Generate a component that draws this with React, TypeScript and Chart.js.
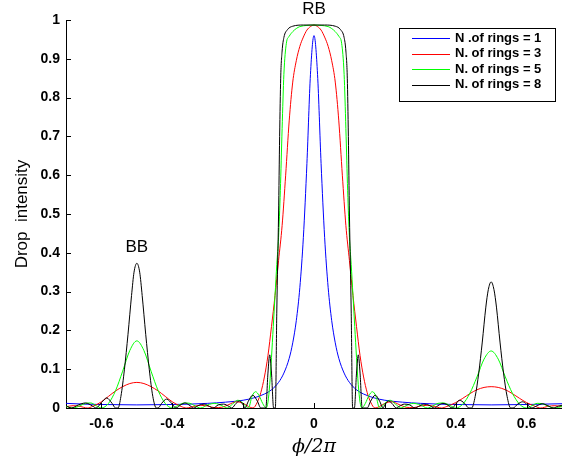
import React, { useEffect, useRef } from "react";
import { Chart, registerables } from "chart.js";

Chart.register(...registerables);

// Drop-port intensity versus normalised phase for coupled ring resonators.
type Pt = [number, number];

const xTicks = [-0.6, -0.4, -0.2, 0, 0.2, 0.4, 0.6];
const yTicks = [0, 0.1, 0.2, 0.3, 0.4, 0.5, 0.6, 0.7, 0.8, 0.9, 1];

const seriesLabels = [
  "N .of rings = 1",
  "N. of rings = 3",
  "N. of rings = 5",
  "N. of rings = 8",
];
const seriesColors = ["#0000ff", "#ff0000", "#00ff00", "#000000"];

const ring1: Pt[] = [
  [-0.7, 0.012], [-0.65, 0.010], [-0.6, 0.009], [-0.55, 0.0085], [-0.5, 0.008],
  [-0.45, 0.0085], [-0.4, 0.009], [-0.35, 0.010], [-0.3, 0.012], [-0.25, 0.015],
  [-0.2, 0.02], [-0.17, 0.026], [-0.14, 0.036], [-0.12, 0.047], [-0.1, 0.066],
  [-0.085, 0.09], [-0.07, 0.128], [-0.06, 0.168], [-0.05, 0.225], [-0.04, 0.31],
  [-0.03, 0.44], [-0.02, 0.63], [-0.01, 0.86], [0, 0.96],
  [0.01, 0.86], [0.02, 0.63], [0.03, 0.44], [0.04, 0.31], [0.05, 0.225],
  [0.06, 0.168], [0.07, 0.128], [0.085, 0.09], [0.1, 0.066], [0.12, 0.047],
  [0.14, 0.036], [0.17, 0.026], [0.2, 0.02], [0.25, 0.015], [0.3, 0.012],
  [0.35, 0.010], [0.4, 0.009], [0.45, 0.0085], [0.5, 0.008], [0.55, 0.0085],
  [0.6, 0.009], [0.65, 0.010], [0.7, 0.011],
];

const ring3: Pt[] = [
  [-0.7, 0.003], [-0.68, 0.006], [-0.66, 0.004], [-0.64, 0.0], [-0.625, 0.004],
  [-0.6, 0.016], [-0.58, 0.03], [-0.56, 0.044], [-0.54, 0.055], [-0.52, 0.063],
  [-0.5, 0.066], [-0.48, 0.063], [-0.46, 0.055], [-0.44, 0.044], [-0.42, 0.03],
  [-0.4, 0.016], [-0.375, 0.004], [-0.36, 0.0], [-0.34, 0.004], [-0.32, 0.007],
  [-0.3, 0.005], [-0.28, 0.001], [-0.26, 0.002], [-0.24, 0.009], [-0.22, 0.016],
  [-0.2, 0.012], [-0.185, 0.004], [-0.172, 0.0], [-0.16, 0.015], [-0.15, 0.04],
  [-0.14, 0.08], [-0.13, 0.135], [-0.12, 0.21], [-0.11, 0.29], [-0.1, 0.38],
  [-0.09, 0.47], [-0.08, 0.6], [-0.07, 0.74], [-0.06, 0.84], [-0.05, 0.895],
  [-0.04, 0.932], [-0.03, 0.956], [-0.02, 0.974], [-0.01, 0.983], [0, 0.987],
  [0.01, 0.983], [0.02, 0.974], [0.03, 0.956], [0.04, 0.932], [0.05, 0.895],
  [0.06, 0.84], [0.07, 0.74], [0.08, 0.6], [0.09, 0.47], [0.1, 0.38],
  [0.11, 0.29], [0.12, 0.21], [0.13, 0.135], [0.14, 0.08], [0.15, 0.04],
  [0.16, 0.015], [0.172, 0.0], [0.185, 0.004], [0.2, 0.012], [0.22, 0.016],
  [0.24, 0.009], [0.26, 0.002], [0.28, 0.001], [0.3, 0.005], [0.32, 0.007],
  [0.34, 0.004], [0.36, 0.0], [0.375, 0.004], [0.4, 0.014], [0.42, 0.025],
  [0.44, 0.037], [0.46, 0.047], [0.48, 0.053], [0.5, 0.055], [0.52, 0.053],
  [0.54, 0.047], [0.56, 0.037], [0.58, 0.025], [0.6, 0.014], [0.625, 0.004],
  [0.64, 0.0], [0.66, 0.004], [0.68, 0.006], [0.7, 0.003],
];

const ring5: Pt[] = [
  [-0.7, 0.004], [-0.68, 0.0], [-0.66, 0.006], [-0.645, 0.012], [-0.63, 0.013],
  [-0.615, 0.006], [-0.6, 0.0], [-0.58, 0.012], [-0.56, 0.045], [-0.54, 0.095],
  [-0.52, 0.148], [-0.5, 0.173], [-0.48, 0.148], [-0.46, 0.095], [-0.44, 0.045],
  [-0.42, 0.012], [-0.4, 0.0], [-0.385, 0.006], [-0.365, 0.013], [-0.35, 0.012],
  [-0.335, 0.005], [-0.32, 0.0], [-0.3, 0.008], [-0.28, 0.012], [-0.26, 0.006],
  [-0.245, 0.0], [-0.23, 0.01], [-0.215, 0.02], [-0.2, 0.012], [-0.19, 0.002],
  [-0.185, 0.0], [-0.175, 0.03], [-0.165, 0.042], [-0.155, 0.032], [-0.145, 0.012],
  [-0.135, 0.0], [-0.13, 0.015], [-0.125, 0.06], [-0.12, 0.13], [-0.115, 0.21],
  [-0.11, 0.29], [-0.105, 0.37], [-0.1, 0.44], [-0.095, 0.56], [-0.09, 0.72],
  [-0.085, 0.86], [-0.078, 0.94], [-0.07, 0.958], [-0.06, 0.97], [-0.05, 0.978],
  [-0.04, 0.983], [-0.02, 0.986], [0, 0.987],
  [0.02, 0.986], [0.04, 0.983], [0.05, 0.978], [0.06, 0.97], [0.07, 0.958],
  [0.078, 0.94], [0.085, 0.86], [0.09, 0.72], [0.095, 0.56], [0.1, 0.44],
  [0.105, 0.37], [0.11, 0.29], [0.115, 0.21], [0.12, 0.13], [0.125, 0.06],
  [0.13, 0.015], [0.135, 0.0], [0.145, 0.012], [0.155, 0.032], [0.165, 0.042],
  [0.175, 0.03], [0.185, 0.0], [0.19, 0.002], [0.2, 0.012], [0.215, 0.02],
  [0.23, 0.01], [0.245, 0.0], [0.26, 0.006], [0.28, 0.012], [0.3, 0.008],
  [0.32, 0.0], [0.335, 0.005], [0.35, 0.012], [0.365, 0.013], [0.385, 0.006],
  [0.4, 0.0], [0.42, 0.01], [0.44, 0.038], [0.46, 0.08], [0.48, 0.126],
  [0.5, 0.147], [0.52, 0.126], [0.54, 0.08], [0.56, 0.038], [0.58, 0.01],
  [0.6, 0.0], [0.615, 0.006], [0.63, 0.012], [0.645, 0.011], [0.66, 0.005],
  [0.68, 0.0], [0.7, 0.004],
];

const ring8: Pt[] = [
  [-0.7, 0.006], [-0.685, 0.0], [-0.665, 0.008], [-0.645, 0.013], [-0.625, 0.005],
  [-0.615, 0.0], [-0.6, 0.014], [-0.585, 0.026], [-0.57, 0.012], [-0.56, 0.0],
  [-0.553, 0.0], [-0.545, 0.03], [-0.535, 0.1], [-0.525, 0.19], [-0.515, 0.29],
  [-0.508, 0.35], [-0.5, 0.373], [-0.492, 0.35], [-0.485, 0.29], [-0.475, 0.19],
  [-0.465, 0.1], [-0.455, 0.03], [-0.445, 0.0], [-0.44, 0.0], [-0.43, 0.012],
  [-0.416, 0.023], [-0.4, 0.01], [-0.39, 0.0], [-0.375, 0.009], [-0.364, 0.013],
  [-0.35, 0.006], [-0.34, 0.0], [-0.325, 0.007], [-0.31, 0.01], [-0.295, 0.004],
  [-0.285, 0.0], [-0.27, 0.008], [-0.255, 0.01], [-0.24, 0.004], [-0.232, 0.0],
  [-0.22, 0.012], [-0.21, 0.018], [-0.2, 0.008], [-0.195, 0.0], [-0.185, 0.018],
  [-0.173, 0.033], [-0.16, 0.018], [-0.15, 0.0], [-0.136, 0.0], [-0.13, 0.09],
  [-0.125, 0.137], [-0.12, 0.09], [-0.114, 0.0], [-0.109, 0.0], [-0.105, 0.25],
  [-0.1, 0.5], [-0.097, 0.7], [-0.094, 0.85], [-0.09, 0.92], [-0.085, 0.955],
  [-0.075, 0.975], [-0.06, 0.984], [-0.03, 0.987], [0, 0.987],
  [0.03, 0.987], [0.06, 0.984], [0.075, 0.975], [0.085, 0.955], [0.09, 0.92],
  [0.094, 0.85], [0.097, 0.7], [0.1, 0.5], [0.105, 0.25], [0.109, 0.0],
  [0.114, 0.0], [0.12, 0.09], [0.125, 0.137], [0.13, 0.09], [0.136, 0.0],
  [0.15, 0.0], [0.16, 0.018], [0.173, 0.033], [0.185, 0.018], [0.195, 0.0],
  [0.2, 0.008], [0.21, 0.018], [0.22, 0.012], [0.232, 0.0], [0.24, 0.004],
  [0.255, 0.01], [0.27, 0.008], [0.285, 0.0], [0.295, 0.004], [0.31, 0.01],
  [0.325, 0.007], [0.34, 0.0], [0.35, 0.006], [0.364, 0.012], [0.375, 0.009],
  [0.39, 0.0], [0.4, 0.01], [0.41, 0.02], [0.425, 0.012], [0.437, 0.0],
  [0.445, 0.0], [0.455, 0.03], [0.465, 0.09], [0.475, 0.17], [0.485, 0.26],
  [0.492, 0.305], [0.5, 0.325], [0.508, 0.305], [0.515, 0.26], [0.525, 0.17],
  [0.535, 0.09], [0.545, 0.03], [0.555, 0.0], [0.562, 0.0], [0.575, 0.01],
  [0.589, 0.016], [0.6, 0.01], [0.615, 0.0], [0.63, 0.006], [0.645, 0.011],
  [0.66, 0.006], [0.675, 0.0], [0.69, 0.005], [0.7, 0.007],
];

const seriesData = [ring1, ring3, ring5, ring8];

// Peak annotations: [text, phase, intensity]
const annotations: [string, number, number][] = [
  ["RB", 0, 1.027],
  ["BB", -0.5, 0.414],
];

const sans = "'Liberation Sans', Arial, Helvetica, sans-serif";

const innerTicks = {
  id: "innerTicks",
  afterDraw(chart: any) {
    const { ctx, chartArea, scales } = chart;
    const xs = scales.x;
    const ys = scales.y;
    ctx.save();
    ctx.strokeStyle = "#000";
    ctx.lineWidth = 1;
    ctx.beginPath();
    xs.ticks.forEach((t: any) => {
      const px = Math.round(xs.getPixelForValue(t.value)) + 0.5;
      ctx.moveTo(px, chartArea.bottom);
      ctx.lineTo(px, chartArea.bottom - 5);
    });
    ys.ticks.forEach((t: any) => {
      const py = Math.round(ys.getPixelForValue(t.value)) + 0.5;
      ctx.moveTo(chartArea.left, py);
      ctx.lineTo(chartArea.left + 5, py);
    });
    ctx.stroke();

    // peak labels
    ctx.fillStyle = "#000";
    ctx.font = `17px ${sans}`;
    ctx.textAlign = "center";
    ctx.textBaseline = "middle";
    annotations.forEach(([text, xv, yv]) => {
      ctx.fillText(text, xs.getPixelForValue(xv), ys.getPixelForValue(yv));
    });
    ctx.restore();
  },
};

const boxedLegend = {
  id: "boxedLegend",
  afterDraw(chart: any) {
    const { ctx, chartArea } = chart;
    const right = chartArea.right - 7;
    const left = right - 156;
    const top = chartArea.top + 8;
    const rowH = 15.5;
    const height = 73;
    ctx.save();
    ctx.fillStyle = "#fff";
    ctx.fillRect(left, top, right - left, height);
    ctx.strokeStyle = "#000";
    ctx.lineWidth = 1;
    ctx.strokeRect(Math.round(left) + 0.5, Math.round(top) + 0.5, right - left, height);
    ctx.font = `bold 13px ${sans}`;
    ctx.textAlign = "left";
    ctx.textBaseline = "middle";
    chart.data.datasets.forEach((ds: any, i: number) => {
      const y = top + 10 + i * rowH;
      ctx.strokeStyle = ds.borderColor;
      ctx.beginPath();
      ctx.moveTo(left + 13, Math.round(y) + 0.5);
      ctx.lineTo(left + 51, Math.round(y) + 0.5);
      ctx.stroke();
      ctx.fillStyle = "#000";
      ctx.fillText(ds.label, left + 56, y);
    });
    ctx.restore();
  },
};

export default function App() {
  const canvasRef = useRef<HTMLCanvasElement>(null);

  useEffect(() => {
    document.body.style.margin = "0";
    const canvas = canvasRef.current;
    if (!canvas) return;
    const chart = new Chart(canvas, {
      type: "line",
      data: {
        datasets: seriesData.map((pts, i) => ({
          label: seriesLabels[i],
          data: pts.map(([x, y]) => ({ x, y })),
          borderColor: seriesColors[i],
          backgroundColor: seriesColors[i],
          borderWidth: 1,
          pointRadius: 0,
          fill: false,
          cubicInterpolationMode: "monotone" as const,
          order: 3 - i,
        })),
      },
      options: {
        animation: false,
        responsive: false,
        devicePixelRatio: 1,
        layout: { padding: { top: 20, left: 0, right: 0, bottom: 0 }, autoPadding: false },
        plugins: {
          legend: { display: false },
          tooltip: { enabled: false },
        },
        scales: {
          x: {
            type: "linear",
            min: -0.7,
            max: 0.7,
            afterBuildTicks: (scale: any) => {
              scale.ticks = xTicks.map((v) => ({ value: v }));
            },
            afterFit: (scale: any) => {
              scale.height = 48;
            },
            grid: { display: false, drawTicks: false },
            border: { display: true, color: "#000", width: 1 },
            ticks: {
              color: "#000",
              font: { family: sans, weight: "bold", size: 14 },
              padding: 8,
              maxRotation: 0,
              autoSkip: false,
              callback: (v: any) => String(+Number(v).toFixed(2)),
            },
            title: {
              display: true,
              text: "\u03D5/2\u03C0",
              color: "#000",
              font: { family: "'DejaVu Serif', 'Liberation Serif', serif", size: 19, style: "italic", lineHeight: 1 },
              padding: { top: 0, bottom: -1 },
            },
          },
          y: {
            type: "linear",
            min: 0,
            max: 1,
            afterBuildTicks: (scale: any) => {
              scale.ticks = yTicks.map((v) => ({ value: v }));
            },
            afterFit: (scale: any) => {
              scale.width = 66;
            },
            grid: { display: false, drawTicks: false },
            border: { display: true, color: "#000", width: 1 },
            ticks: {
              color: "#000",
              font: { family: sans, weight: "bold", size: 14 },
              padding: 6,
              autoSkip: false,
              callback: (v: any) => String(+Number(v).toFixed(2)),
            },
            title: {
              display: true,
              text: "Drop  intensity",
              color: "#000",
              font: { family: sans, size: 17, lineHeight: 1.2 },
              padding: { top: 12, bottom: 0 },
            },
          },
        },
      },
      plugins: [innerTicks, boxedLegend],
    });
    return () => chart.destroy();
  }, []);

  return (
    <div style={{ position: "fixed", left: 0, top: 0, width: 562, height: 456 }}>
      <canvas ref={canvasRef} width={562} height={456} />
    </div>
  );
}
